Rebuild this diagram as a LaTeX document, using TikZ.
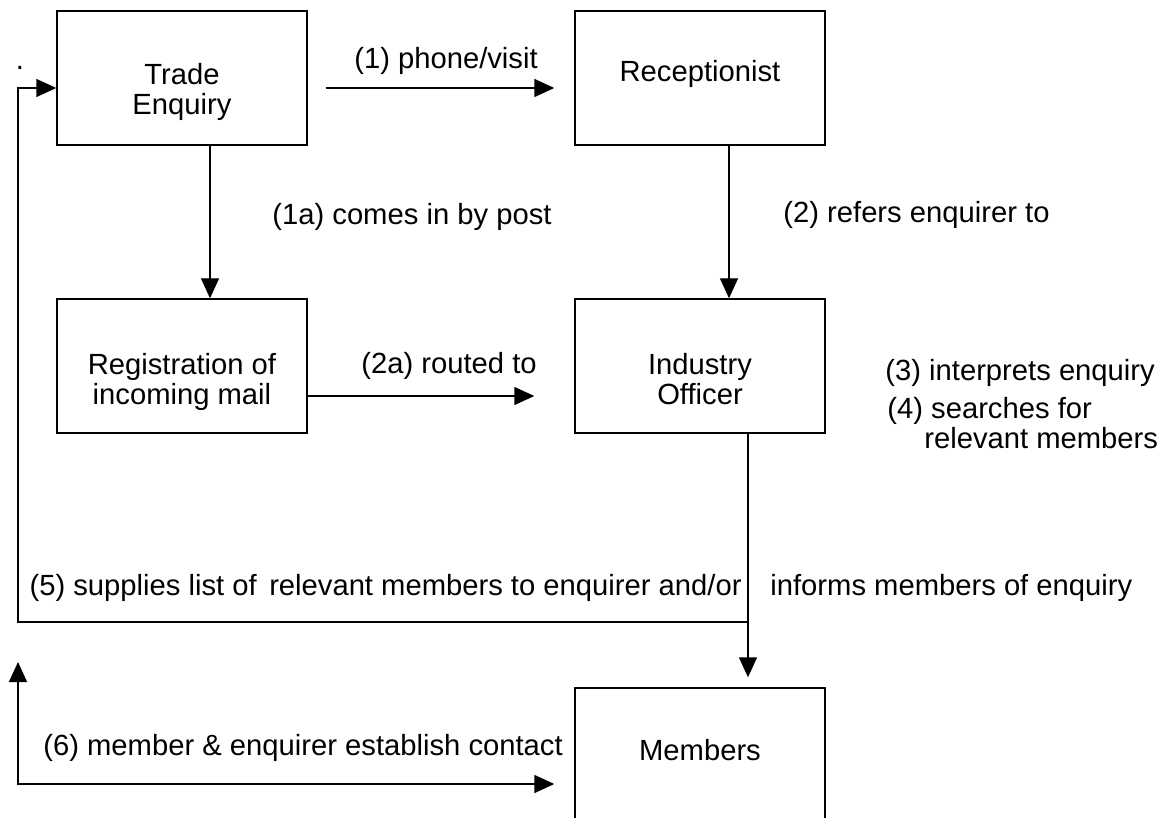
\documentclass[tikz,border=0pt]{standalone}
\usepackage{fontspec}
\setmainfont{Liberation Sans}
\usetikzlibrary{arrows.meta}

\begin{document}
\begin{tikzpicture}[x=0.5pt, y=-0.5pt,
  font=\fontsize{14.6}{15}\selectfont,
  box/.style={draw, line width=0.7pt, minimum width=125pt, minimum height=67pt, inner sep=0pt},
  txt/.style={inner sep=0pt, align=center},
  wire/.style={line width=0.7pt},
  flow/.style={wire, -{Triangle[length=10pt, width=9pt]}},
  twoway/.style={wire, {Triangle[length=10pt, width=9pt]}-{Triangle[length=10pt, width=9pt]}}]
\useasboundingbox (0,0) rectangle (1172,818);
\clip (0,0) rectangle (1172,818);

% Boxes
\node[box] (trade) at (182,78) {};
\node[box] (recep) at (700,78) {};
\node[box] (reg) at (182,366) {};
\node[box] (officer) at (700,366) {};
\node[box] (members) at (700,755) {};

% Box texts
\node[txt] (tradetxt) at (182,92) {Trade\\Enquiry};
\node[txt, anchor=base] (receptxt) at (700,82) {Receptionist};
\node[txt] (regtxt) at (182,382) {Registration of\\incoming mail};
\node[txt] (officertxt) at (700,379) {Industry\\Officer};
\node[txt, anchor=base] (memberstxt) at (700,760) {Members};
\node[txt, anchor=base] (dot) at (20,70) {.};

% Enquiry routes
\draw[flow, shorten <=9pt, shorten >=10pt] ([yshift=-5pt]trade.east) -- ([yshift=-5pt]recep.west);
\draw[flow] ([xshift=14pt]trade.south) -- ([xshift=14pt]reg.north);
\draw[flow] ([xshift=14.5pt]recep.south) -- ([xshift=14.5pt]officer.north);
\draw[flow, shorten >=20pt] ([yshift=-15pt]reg.east) -- ([yshift=-15pt]officer.west);
\draw[flow, shorten >=5pt] ([xshift=24pt]officer.south) -- ([xshift=24pt]members.north);

% Feedback to the enquirer
\coordinate (split) at (748,622);
\coordinate (back) at (18,622);
\draw[flow] (split) -- (back) |- ([yshift=-5pt]trade.west);
\coordinate (up) at (18,662);
\draw[twoway, shorten >=10pt] (up) |- ([yshift=-14.5pt]members.west);

% Step labels
\node[txt, anchor=base] (l1) at (446,69) {(1) phone/visit};
\node[txt, anchor=base west] (l1a) at (272,225) {(1a) comes in by post};
\node[txt, anchor=base west] (l2) at (783,223) {(2) refers enquirer to};
\node[txt, anchor=base west] (l2a) at (361,373) {(2a) routed to};
\node[txt, anchor=base west] (l3) at (885,380) {(3) interprets enquiry};
\node[txt, anchor=base west] (l4) at (887,418) {(4) searches for};
\node[txt, anchor=base west] (l4b) at (924,448) {relevant members};
\node[txt, anchor=base east] (l5) at (742,595) {(5) supplies list of\hspace{0.15em} relevant members to enquirer and/or};
\node[txt, anchor=base west] (l5b) at (770,595) {informs members of enquiry};
\node[txt, anchor=base west] (l6) at (43,755) {(6) member \& enquirer establish contact};
\end{tikzpicture}
\end{document}
